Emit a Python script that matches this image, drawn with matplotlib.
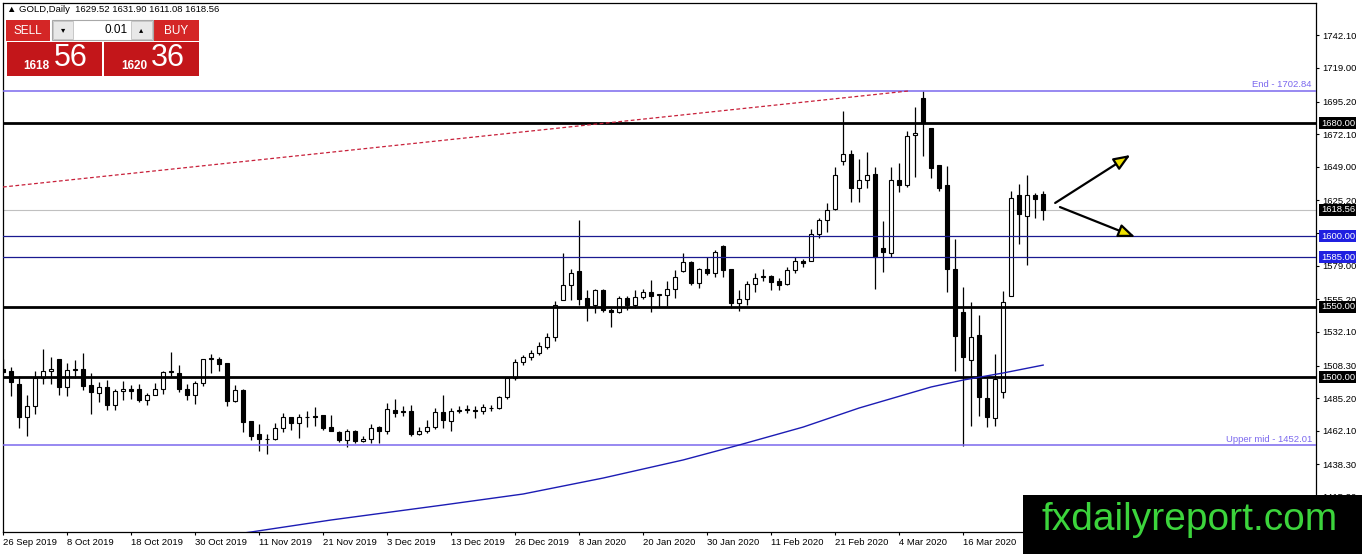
import matplotlib
matplotlib.use("Agg")
from matplotlib import pyplot as plt
from matplotlib.patches import Rectangle

plt.rcParams['font.family'] = ['Liberation Sans', 'DejaVu Sans']

# daily GOLD candles, 26 Sep 2019 .. 30 Mar 2020
opens = [
    1505.6, 1504.5, 1495.1, 1472.1, 1479.3, 1499.8, 1504.5, 1513.1, 1493.4, 1505.2,
    1505.6, 1494.4, 1488.5, 1493.4, 1480.5, 1489.9, 1492.0, 1492.0, 1484.0, 1487.6,
    1492.0, 1504.0, 1503.3, 1492.0, 1487.6, 1496.2, 1512.7, 1513.1, 1509.9, 1483.3,
    1490.8, 1468.8, 1459.9, 1456.5, 1456.3, 1463.8, 1471.6, 1467.4, 1471.8, 1472.3,
    1473.2, 1464.6, 1461.0, 1455.2, 1461.7, 1454.7, 1456.3, 1464.6, 1462.2, 1477.0,
    1475.8, 1475.8, 1459.9, 1461.7, 1464.6, 1475.1, 1468.8, 1476.1, 1476.9, 1477.0,
    1475.8, 1478.0, 1477.9, 1485.7, 1499.8, 1511.0, 1514.5, 1517.5, 1521.6, 1528.6,
    1554.9, 1565.0, 1574.9, 1556.1, 1551.4, 1562.0, 1547.9, 1546.2, 1556.1, 1551.4,
    1556.8, 1560.3, 1558.2, 1558.0, 1562.4, 1574.9, 1581.5, 1566.6, 1576.5, 1573.7,
    1593.0, 1576.5, 1552.6, 1555.4, 1566.0, 1571.2, 1571.8, 1567.8, 1566.2, 1575.6,
    1582.4, 1582.4, 1601.1, 1611.2, 1619.4, 1652.8, 1658.2, 1634.2, 1639.9, 1643.6,
    1591.3, 1587.8, 1639.9, 1636.3, 1671.6, 1697.4, 1676.3, 1650.0, 1635.9, 1576.7,
    1546.2, 1512.2, 1530.2, 1485.6, 1470.9, 1489.2, 1557.7, 1628.8, 1614.0, 1628.8,
    1629.52]
highs = [
    1512.7, 1507.5, 1500.9, 1487.3, 1504.5, 1519.7, 1514.6, 1513.1, 1509.9, 1512.2,
    1516.9, 1503.3, 1496.9, 1498.1, 1491.5, 1497.4, 1494.4, 1495.1, 1488.7, 1496.2,
    1504.3, 1518.1, 1508.4, 1495.1, 1497.4, 1512.9, 1516.2, 1514.6, 1510.1, 1494.4,
    1492.0, 1469.0, 1466.9, 1459.9, 1467.4, 1474.6, 1471.8, 1473.9, 1475.8, 1478.6,
    1473.4, 1473.2, 1462.2, 1463.4, 1462.7, 1458.2, 1466.9, 1465.7, 1481.7, 1484.5,
    1479.8, 1480.3, 1464.6, 1469.7, 1478.2, 1487.3, 1478.2, 1479.8, 1480.3, 1479.8,
    1481.0, 1480.3, 1486.4, 1500.2, 1512.7, 1516.0, 1519.5, 1525.0, 1531.4, 1553.8,
    1588.3, 1576.5, 1611.3, 1561.5, 1562.4, 1562.2, 1549.1, 1557.3, 1557.3, 1561.5,
    1562.4, 1568.5, 1558.9, 1567.8, 1575.6, 1587.8, 1582.4, 1577.7, 1585.4, 1590.1,
    1593.7, 1576.7, 1562.0, 1568.3, 1573.7, 1576.5, 1572.5, 1570.2, 1578.4, 1585.0,
    1583.6, 1604.7, 1612.9, 1623.7, 1648.8, 1688.7, 1661.2, 1654.2, 1659.8, 1648.8,
    1610.5, 1648.8, 1651.8, 1674.6, 1691.7, 1702.84, 1676.5, 1650.2, 1649.3, 1597.8,
    1563.6, 1553.2, 1543.9, 1499.7, 1516.2, 1561.2, 1631.7, 1637.1, 1643.4, 1630.7,
    1631.90]
lows = [
    1503.3, 1486.9, 1464.1, 1458.7, 1473.9, 1495.1, 1495.1, 1487.6, 1486.9, 1499.8,
    1491.1, 1473.9, 1482.6, 1477.0, 1477.0, 1484.0, 1484.5, 1482.6, 1480.5, 1487.3,
    1488.0, 1500.9, 1489.2, 1483.8, 1481.0, 1493.9, 1503.3, 1504.5, 1479.3, 1482.2,
    1461.0, 1455.9, 1448.1, 1445.3, 1455.2, 1461.0, 1462.7, 1456.8, 1464.6, 1465.7,
    1462.7, 1461.7, 1454.0, 1450.5, 1453.5, 1454.0, 1453.5, 1453.5, 1459.9, 1471.6,
    1472.3, 1458.7, 1459.2, 1460.3, 1463.4, 1464.1, 1462.2, 1474.6, 1474.6, 1471.1,
    1473.9, 1475.8, 1477.5, 1484.5, 1498.1, 1509.0, 1512.5, 1516.0, 1520.2, 1525.6,
    1554.7, 1554.9, 1551.4, 1539.6, 1545.5, 1546.0, 1535.7, 1545.5, 1547.9, 1549.1,
    1555.4, 1546.0, 1549.8, 1550.7, 1556.1, 1574.7, 1565.0, 1563.1, 1572.5, 1570.9,
    1570.9, 1549.1, 1546.7, 1551.4, 1560.1, 1567.8, 1562.0, 1561.5, 1565.5, 1573.7,
    1578.4, 1582.2, 1598.8, 1603.0, 1618.3, 1650.0, 1624.1, 1624.1, 1634.0, 1562.6,
    1574.8, 1585.4, 1631.2, 1634.7, 1641.7, 1656.5, 1641.0, 1631.7, 1560.3, 1504.4,
    1451.0, 1465.7, 1472.7, 1464.5, 1465.7, 1485.2, 1557.5, 1594.1, 1579.5, 1612.9,
    1611.08]
closes = [
    1503.8, 1496.9, 1472.1, 1479.3, 1499.8, 1504.5, 1505.6, 1493.4, 1505.2, 1505.6,
    1493.9, 1489.2, 1493.4, 1480.5, 1489.9, 1492.0, 1490.4, 1484.0, 1487.6, 1492.0,
    1504.0, 1504.5, 1491.5, 1487.6, 1496.2, 1512.7, 1513.9, 1509.6, 1483.3, 1490.8,
    1468.5, 1458.7, 1456.3, 1456.0, 1463.8, 1471.6, 1467.6, 1471.6, 1472.1, 1472.0,
    1464.1, 1462.2, 1455.2, 1461.7, 1454.5, 1456.3, 1463.8, 1462.2, 1477.5, 1474.4,
    1475.3, 1459.9, 1461.7, 1464.6, 1475.1, 1469.9, 1475.8, 1476.4, 1477.1, 1475.8,
    1478.6, 1478.4, 1485.7, 1499.8, 1511.0, 1514.5, 1517.5, 1522.0, 1528.6, 1551.4,
    1565.0, 1573.7, 1555.6, 1550.7, 1562.0, 1547.4, 1546.2, 1556.1, 1551.4, 1556.8,
    1560.3, 1557.3, 1558.6, 1562.4, 1570.9, 1581.5, 1566.6, 1576.8, 1573.7, 1588.5,
    1576.1, 1552.6, 1555.4, 1566.0, 1570.2, 1571.6, 1567.1, 1565.5, 1575.6, 1582.6,
    1580.7, 1601.2, 1611.2, 1618.7, 1642.9, 1658.2, 1634.0, 1639.9, 1643.4, 1585.4,
    1588.9, 1639.9, 1636.3, 1671.1, 1672.7, 1680.0, 1648.1, 1634.0, 1576.5, 1529.1,
    1514.3, 1528.6, 1486.1, 1472.0, 1498.6, 1553.2, 1627.2, 1615.9, 1628.8, 1626.5,
    1618.56]

# moving average (read at a few bars)
ma_bars = [27, 31, 41, 55, 65, 75, 85, 92, 100, 107, 116, 120, 125, 130]
ma_vals = [1387.3, 1390.4, 1398.9, 1409.5, 1417.3, 1428.6, 1441.4, 1452.0,
           1464.7, 1478.2, 1493.1, 1498.0, 1503.0, 1508.6]

# red dashed trend line
trend_bars = [0, 113.4]
trend_vals = [1634.7, 1702.84]

# horizontal levels
black_levels = [1680.0, 1550.0, 1500.0]
blue_levels = [1600.0, 1585.0]
end_level = 1702.84
upper_mid = 1452.01
bid = 1618.56

# arrows (start bar, start price, end bar, end price)
arrows = [(131.5, 1623.4, 140.9, 1657.4), (132.1, 1620.5, 141.5, 1599.3)]

ytick_vals = [1742.10, 1719.00, 1695.20, 1672.10, 1649.00, 1625.20, 1602.10, 1579.00,
              1555.20, 1532.10, 1508.30, 1485.20, 1462.10, 1438.30, 1415.20]
date_labels = ['26 Sep 2019', '8 Oct 2019', '18 Oct 2019', '30 Oct 2019', '11 Nov 2019',
               '21 Nov 2019', '3 Dec 2019', '13 Dec 2019', '26 Dec 2019', '8 Jan 2020',
               '20 Jan 2020', '30 Jan 2020', '11 Feb 2020', '21 Feb 2020', '4 Mar 2020',
               '16 Mar 2020', '26 Mar 2020']
date_bars = [8 * i for i in range(len(date_labels))]

W, H = 1362, 554
fig = plt.figure(figsize=(W / 100, H / 100), dpi=100)
fig.patch.set_facecolor('white')

ax = fig.add_axes([3 / W, 1 - 532 / H, (1316 - 3) / W, (532 - 3) / H])
ax.set_xlim(0, 164.1)
ax.set_ylim(1390.4, 1765.0)
for sp in ax.spines.values():
    sp.set_linewidth(0.9)
    sp.set_color('black')

# candles
for i in range(len(opens)):
    o, h, l, c = opens[i], highs[i], lows[i], closes[i]
    ax.vlines(i, l, h, color='black', lw=0.9, zorder=2)
    lo, hi = min(o, c), max(o, c)
    fc = 'white' if c >= o else 'black'
    ax.bar(i, max(hi - lo, 0.35), bottom=lo, width=0.55, color=fc,
           edgecolor='black', linewidth=0.8, zorder=3)

# levels
for lv in black_levels:
    ax.axhline(lv, color='black', lw=2.0, zorder=4)
for lv in blue_levels:
    ax.axhline(lv, color='#1a1a90', lw=0.9, zorder=4)
ax.axhline(bid, color='#c0c0c0', lw=0.8, zorder=1)
ax.axhline(end_level, color='#7b68ee', lw=1.1, zorder=4)
ax.axhline(upper_mid, color='#7b68ee', lw=1.1, zorder=4)
ax.text(163.6, end_level + 1.0, 'End - 1702.84', color='#7b68ee', fontsize=6.8,
        ha='right', va='bottom', zorder=5)
ax.text(163.6, upper_mid + 1.0, 'Upper mid - 1452.01', color='#7b68ee', fontsize=6.8,
        ha='right', va='bottom', zorder=5)

ax.plot(ma_bars, ma_vals, color='#1c1cb4', lw=1.0, zorder=4)
ax.plot(trend_bars, trend_vals, color='#c8203a', lw=0.9, dashes=(3, 2), zorder=4)

for x0, y0, x1, y1 in arrows:
    ax.annotate('', xy=(x1, y1), xytext=(x0, y0),
                arrowprops=dict(arrowstyle='-|>,head_length=1.0,head_width=0.4',
                                fc='#eee000', ec='black', lw=1.6,
                                shrinkA=0, shrinkB=0), zorder=6)

# price axis on the right
ax.yaxis.tick_right()
ax.set_yticks(ytick_vals)
ax.set_yticklabels(['%.2f' % v for v in ytick_vals])
ax.tick_params(axis='y', direction='out', length=2.5, width=0.8, pad=2, labelsize=6.8)

hl = [(1680.0, 'black'), (bid, 'black'), (1600.0, '#2020e0'), (1585.0, '#2020e0'),
      (1550.0, 'black'), (1500.0, 'black')]
for v, col in hl:
    ax.annotate('%.2f' % v, xy=(1.0, v), xycoords=('axes fraction', 'data'),
                xytext=(3.5, 0), textcoords='offset points', ha='left', va='center',
                fontsize=6.8, color='white', annotation_clip=False, zorder=10,
                bbox=dict(boxstyle='square,pad=0.15', fc=col, ec='none'))

ax.set_xticks(date_bars)
ax.set_xticklabels(date_labels, ha='left')
ax.tick_params(axis='x', direction='out', length=2, width=0.8, pad=2, labelsize=6.8)


def px_rect(x0, y0, x1, y1, **kw):
    fig.patches.append(Rectangle((x0 / W, 1 - y1 / H), (x1 - x0) / W, (y1 - y0) / H,
                                 transform=fig.transFigure, **kw))


def px_text(x, y, s, **kw):
    fig.text(x / W, 1 - y / H, s, **kw)


# header
px_text(7, 10, '\u25b2 GOLD,Daily  1629.52 1631.90 1611.08 1618.56', fontsize=6.8,
        va='center', ha='left', color='black')

# trade panel
red_top = '#d42626'
red_low = '#c3161a'
px_rect(6, 20, 50, 41, fc=red_top, ec='none')
px_rect(154, 20, 199, 41, fc=red_top, ec='none')
px_rect(52, 20, 153, 40, fc='white', ec='#a8a8a8', lw=0.8)
px_rect(53, 21, 73, 39, fc='#e8e8e8', ec='#c0c0c0', lw=0.6)
px_rect(131, 21, 152, 39, fc='#e8e8e8', ec='#c0c0c0', lw=0.6)
px_rect(7, 42, 102, 76, fc=red_low, ec='none')
px_rect(104, 42, 199, 76, fc=red_low, ec='none')
px_text(28, 30.5, 'SELL', fontsize=8.5, color='white', ha='center', va='center')
px_text(176, 30.5, 'BUY', fontsize=8.5, color='white', ha='center', va='center')
px_text(63, 30, '\u25be', fontsize=6, color='black', ha='center', va='center',
        family=['DejaVu Sans'])
px_text(141.5, 30, '\u25b4', fontsize=6, color='black', ha='center', va='center',
        family=['DejaVu Sans'])
px_text(128, 30, '0.01', fontsize=8.5, color='black', ha='right', va='center')
px_text(23, 66, '1618', fontsize=8.5, color='white', ha='left', va='center',
        weight='bold')
px_text(54, 58, '56', fontsize=22, color='white', ha='left', va='center')
px_text(121, 66, '1620', fontsize=8.5, color='white', ha='left', va='center',
        weight='bold')
px_text(151, 58, '36', fontsize=22, color='white', ha='left', va='center')

# watermark
px_rect(1023, 495, 1362, 554, fc='black', ec='none', zorder=20)
px_text(1190, 520, 'fxdailyreport.com', fontsize=28, color='#3cd43c',
        ha='center', va='center', zorder=21)

fig.savefig('out.png', dpi=100)
